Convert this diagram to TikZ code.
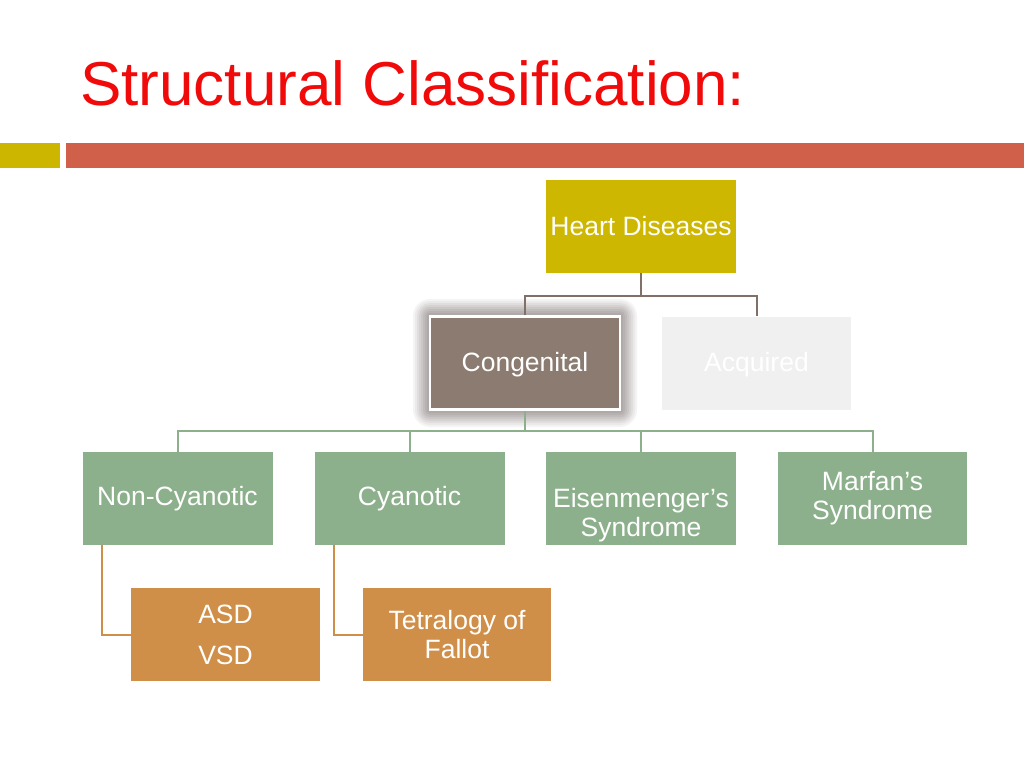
\documentclass[tikz,border=0pt]{standalone}
\usepackage{fontspec}
\setmainfont{Liberation Sans}
\definecolor{titlered}{RGB}{240,10,10}
\definecolor{olivebar}{RGB}{205,182,0}
\definecolor{rustbar}{RGB}{209,96,74}
\definecolor{heartc}{RGB}{205,183,0}
\definecolor{congc}{RGB}{139,123,112}
\definecolor{acqc}{RGB}{240,240,240}
\definecolor{greenc}{RGB}{141,176,140}
\definecolor{orangec}{RGB}{208,143,72}
\definecolor{linebrown}{RGB}{128,112,104}
\definecolor{glowc}{RGB}{120,112,110}
\begin{document}
\begin{tikzpicture}[x=1pt,y=-1pt,
  box/.style={rectangle,minimum width=190pt,minimum height=93pt,inner sep=0pt,
    text=white,align=center,font=\fontsize{26.5}{29}\selectfont},
  txt/.style={inner sep=0pt,text=white,align=center,font=\fontsize{26.5}{29}\selectfont},
  conn/.style={line width=2pt}]
\useasboundingbox (0,0) rectangle (1024,768);
\fill[white] (0,0) rectangle (1024,768);
% title
\node[anchor=base west,inner sep=0pt,text=titlered,font=\fontsize{62}{70}\selectfont] (title) at (80,105) {Structural Classification:};
% bars
\fill[olivebar] (0,143) rectangle (60,168);
\fill[rustbar] (66,143) rectangle (1024,168);
% glow around congenital
\foreach \d/\o in {17/0.07,15/0.08,13/0.09,11/0.10,9/0.11,7/0.12,5/0.12,3/0.12}{
  \fill[glowc,opacity=\o,rounded corners=\d pt] (430-\d,316-\d) rectangle (620+\d,410+\d);
}
% nodes
\node[box,fill=heartc] (heart) at (641,226.5) {Heart Diseases};
\node[box,fill=congc,draw=white,line width=2.5pt] (cong) at (525,363) {};
\node[txt] (congtxt) at (525,365) {Congenital};
\node[box,fill=acqc,minimum width=189pt] (acq) at (756.5,363) {};
\node[txt] (acqtxt) at (756.5,365) {Acquired};
\node[box,fill=greenc] (noncy) at (177.5,498.5) {Non-Cyanotic};
\node[box,fill=greenc] (cyan) at (409.5,498.5) {Cyanotic};
\node[box,fill=greenc] (eisen) at (641,498.5) {};
\node[txt,anchor=north] (eisentxt) at (641,488) {Eisenmenger's\\Syndrome};
\node[box,fill=greenc,minimum width=189pt] (marfan) at (872.5,498.5) {Marfan's\\Syndrome};
\node[box,fill=orangec,minimum width=189pt] (asd) at (225.5,634.5) {};
\node[txt,anchor=center,font=\fontsize{26.5}{41}\selectfont] (asdtxt) at (225.5,635) {ASD\\VSD};
\node[box,fill=orangec,minimum width=188pt] (tof) at (457,634.5) {Tetralogy of\\Fallot};
% connectors
\coordinate (h1) at (641,296);
\draw[conn,linebrown] (heart.south) -- (h1);
\draw[conn,linebrown] (cong.north) |- (h1) -| (acq.north);
\coordinate (c1) at (525,431);
\draw[conn,greenc] (cong.south) -- (c1);
\draw[conn,greenc] (noncy.north) |- (c1) -| (marfan.north);
\draw[conn,greenc] (cyan.north) -- (cyan.north |- c1);
\draw[conn,greenc] (eisen.north) -- (eisen.north |- c1);
\draw[conn,orangec] ([xshift=-76pt]noncy.south) |- (asd.west);
\draw[conn,orangec] ([xshift=-76pt]cyan.south) |- (tof.west);
\end{tikzpicture}
\end{document}
